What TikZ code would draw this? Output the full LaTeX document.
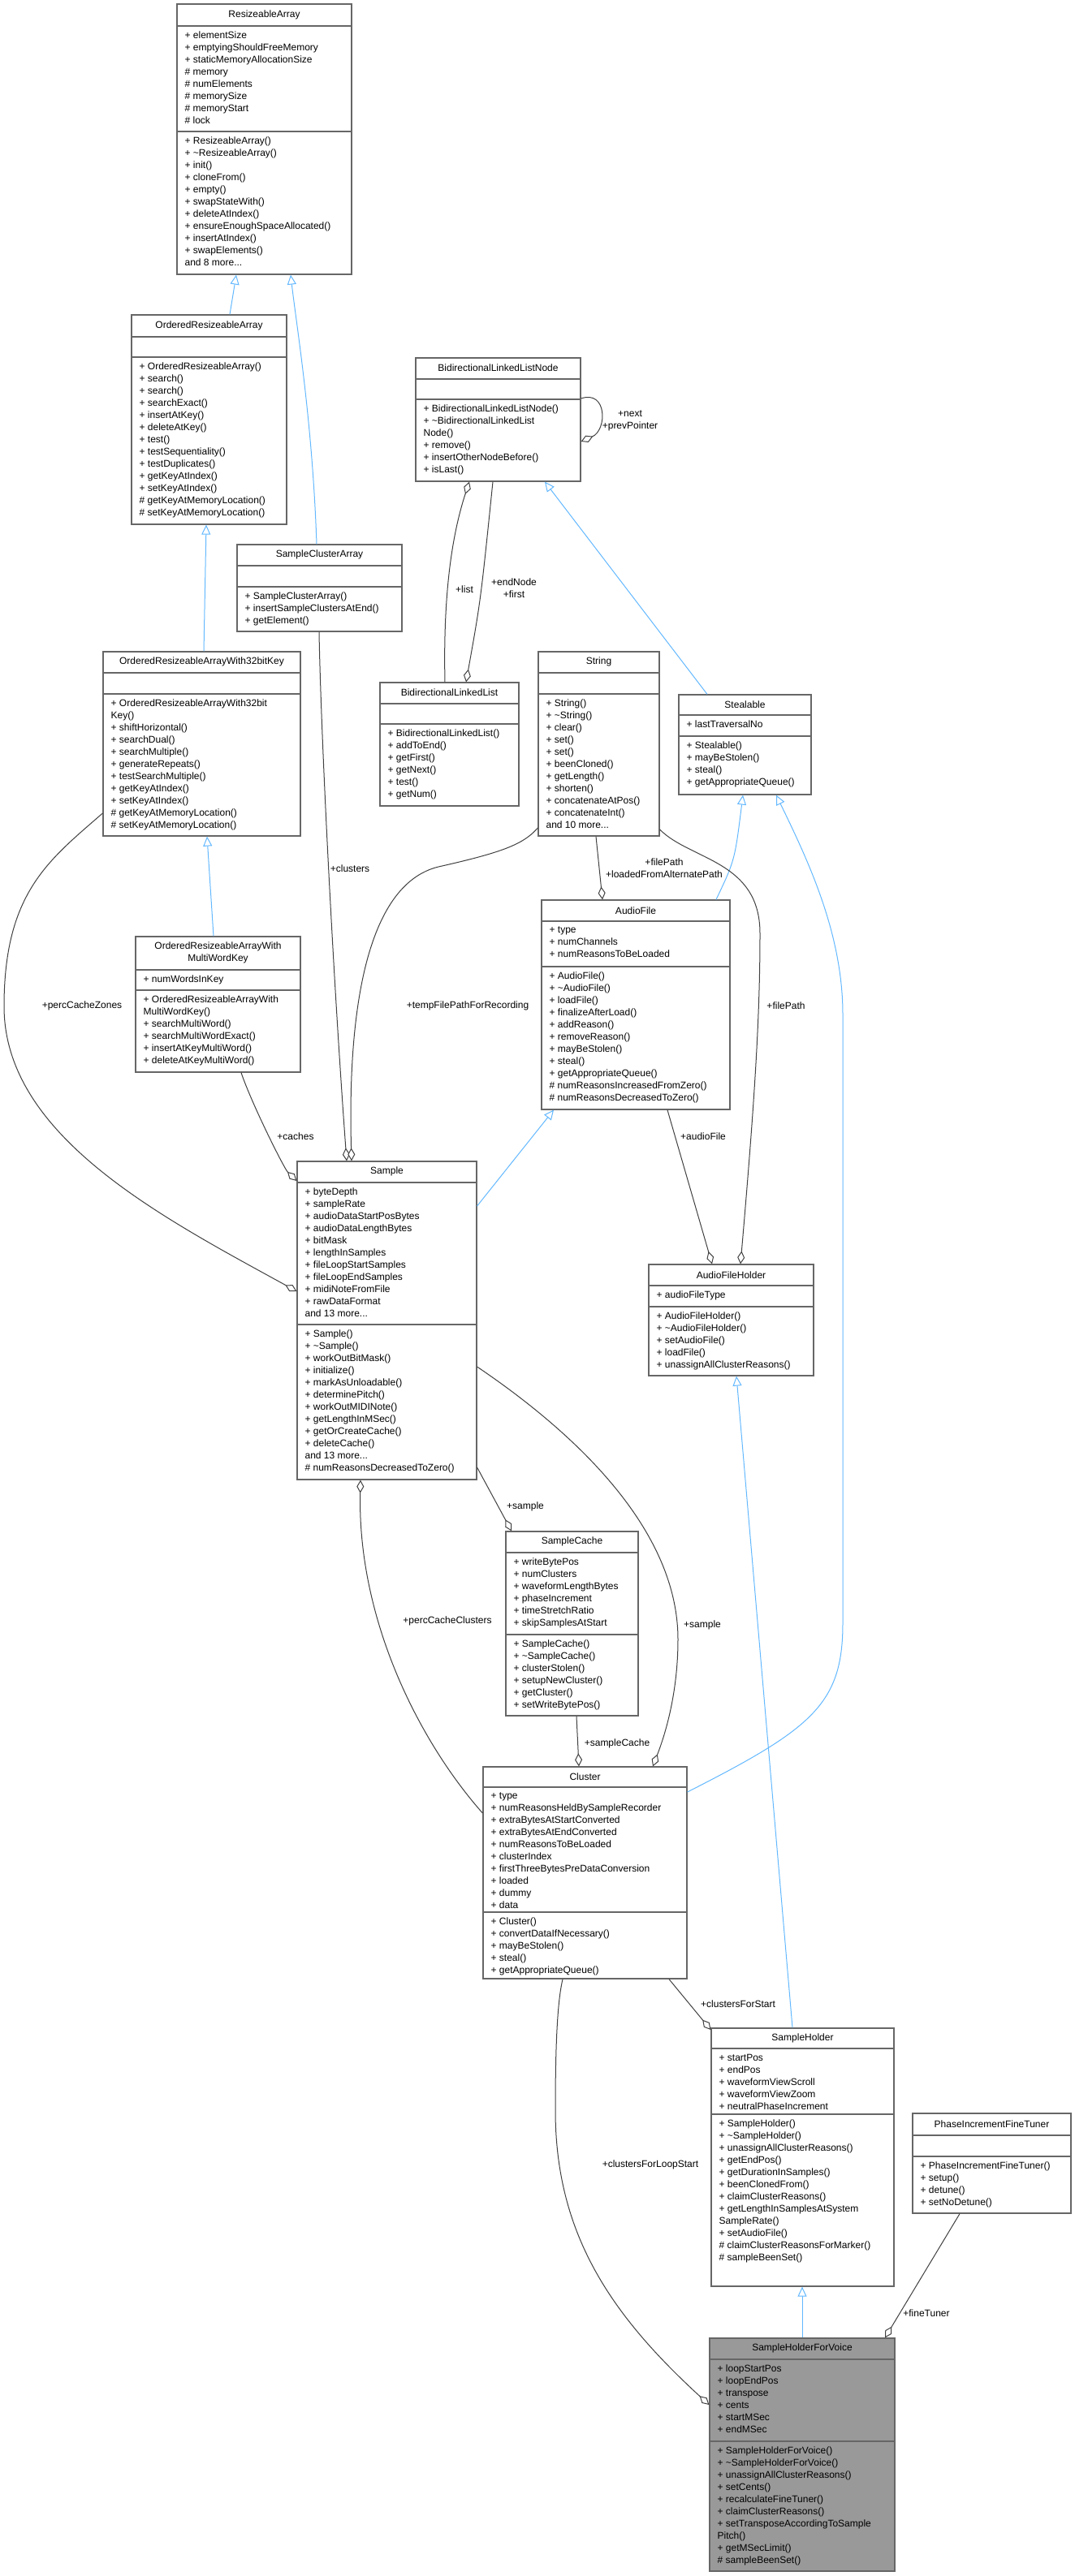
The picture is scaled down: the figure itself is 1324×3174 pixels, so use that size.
\documentclass[tikz,border=0pt]{standalone}
\usepackage{fontspec}
\setmainfont{Liberation Sans}
\usetikzlibrary{arrows.meta,calc,fit}

\definecolor{boxline}{HTML}{666666}
\definecolor{edgeline}{HTML}{404040}
\definecolor{inhline}{HTML}{63B8FF}
\definecolor{mainfill}{HTML}{999999}

\tikzset{
  umlbox/.style={draw=boxline, line width=1.2pt, inner sep=0pt},
  umltext/.style={inner sep=0pt, align=left, anchor=north west, font=\fontsize{12}{15}\selectfont},
  umltitle/.style={inner sep=0pt, align=center, font=\fontsize{12}{15}\selectfont},
  inherit/.style={draw=inhline, line width=1pt, -{Triangle[open, length=12pt, width=11pt, fill=white]}},
  aggr/.style={draw=edgeline, line width=1pt, {Diamond[open, length=16pt, width=9pt, fill=white]}-},
  role/.style={font=\fontsize{12}{15}\selectfont, align=center, inner sep=1pt},
}

% #1 name, #2 top left, #3 bottom right, #4 y of title rule, #5 y of attribute rule,
% #6 title, #7 attributes, #8 methods, #9 fill
\newcommand{\umlclass}[9]{%
  \node[umlbox, fill=#9, fit={#2 #3}] (#1) {};
  \draw[boxline, line width=1.2pt] (#1.west |- 0,#4) -- (#1.east |- 0,#4);
  \draw[boxline, line width=1.2pt] (#1.west |- 0,#5) -- (#1.east |- 0,#5);
  \node[umltitle] (#1-title) at ($(#1.north)!0.5!(#1.north |- 0,#4)$) {#6};
  \node[umltext] (#1-attrs) at ($(#1.west |- 0,#4)+(10,7)$) {#7};
  \node[umltext] (#1-ops) at ($(#1.west |- 0,#5)+(10,7)$) {#8};
}

\begin{document}
\begin{tikzpicture}[x=1pt, y=-1pt]
\useasboundingbox (0,0) rectangle (1324,3174);

% classes
\umlclass{resarr}{(218,5)}{(433,338)}{32}{162}{ResizeableArray}
  {+ elementSize\\+ emptyingShouldFreeMemory\\+ staticMemoryAllocationSize\\\# memory\\\# numElements\\\# memorySize\\\# memoryStart\\\# lock}
  {+ ResizeableArray()\\+ \textasciitilde ResizeableArray()\\+ init()\\+ cloneFrom()\\+ empty()\\+ swapStateWith()\\+ deleteAtIndex()\\+ ensureEnoughSpaceAllocated()\\+ insertAtIndex()\\+ swapElements()\\and 8 more...}{white}
\umlclass{ordarr}{(162,388)}{(353,646)}{415}{440}{OrderedResizeableArray}
  {}
  {+ OrderedResizeableArray()\\+ search()\\+ search()\\+ searchExact()\\+ insertAtKey()\\+ deleteAtKey()\\+ test()\\+ testSequentiality()\\+ testDuplicates()\\+ getKeyAtIndex()\\+ setKeyAtIndex()\\\# getKeyAtMemoryLocation()\\\# setKeyAtMemoryLocation()}{white}
\umlclass{clusterarr}{(292,671)}{(495,778)}{697}{723}{SampleClusterArray}
  {}
  {+ SampleClusterArray()\\+ insertSampleClustersAtEnd()\\+ getElement()}{white}
\umlclass{bllnode}{(512,441)}{(715,593)}{467}{492}{BidirectionalLinkedListNode}
  {}
  {+ BidirectionalLinkedListNode()\\+ \textasciitilde BidirectionalLinkedList\\Node()\\+ remove()\\+ insertOtherNodeBefore()\\+ isLast()}{white}
\umlclass{bllist}{(468,841)}{(639,993)}{867}{892}{BidirectionalLinkedList}
  {}
  {+ BidirectionalLinkedList()\\+ addToEnd()\\+ getFirst()\\+ getNext()\\+ test()\\+ getNum()}{white}
\umlclass{string}{(663,803)}{(812,1030)}{829}{855}{String}
  {}
  {+ String()\\+ \textasciitilde String()\\+ clear()\\+ set()\\+ set()\\+ beenCloned()\\+ getLength()\\+ shorten()\\+ concatenateAtPos()\\+ concatenateInt()\\and 10 more...}{white}
\umlclass{stealable}{(836,856)}{(999,979)}{881}{907}{Stealable}
  {+ lastTraversalNo}
  {+ Stealable()\\+ mayBeStolen()\\+ steal()\\+ getAppropriateQueue()}{white}
\umlclass{arr32}{(127,803)}{(370,1030)}{829}{855}{OrderedResizeableArrayWith32bitKey}
  {}
  {+ OrderedResizeableArrayWith32bit\\Key()\\+ shiftHorizontal()\\+ searchDual()\\+ searchMultiple()\\+ generateRepeats()\\+ testSearchMultiple()\\+ getKeyAtIndex()\\+ setKeyAtIndex()\\\# getKeyAtMemoryLocation()\\\# setKeyAtMemoryLocation()}{white}
\umlclass{arrmulti}{(167,1154)}{(370,1321)}{1195}{1220}{OrderedResizeableArrayWith\\MultiWordKey}
  {+ numWordsInKey}
  {+ OrderedResizeableArrayWith\\MultiWordKey()\\+ searchMultiWord()\\+ searchMultiWordExact()\\+ insertAtKeyMultiWord()\\+ deleteAtKeyMultiWord()}{white}
\umlclass{audiofile}{(667,1109)}{(899,1367)}{1135}{1191}{AudioFile}
  {+ type\\+ numChannels\\+ numReasonsToBeLoaded}
  {+ AudioFile()\\+ \textasciitilde AudioFile()\\+ loadFile()\\+ finalizeAfterLoad()\\+ addReason()\\+ removeReason()\\+ mayBeStolen()\\+ steal()\\+ getAppropriateQueue()\\\# numReasonsIncreasedFromZero()\\\# numReasonsDecreasedToZero()}{white}
\umlclass{sample}{(366,1431)}{(587,1823)}{1457}{1632}{Sample}
  {+ byteDepth\\+ sampleRate\\+ audioDataStartPosBytes\\+ audioDataLengthBytes\\+ bitMask\\+ lengthInSamples\\+ fileLoopStartSamples\\+ fileLoopEndSamples\\+ midiNoteFromFile\\+ rawDataFormat\\and 13 more...}
  {+ Sample()\\+ \textasciitilde Sample()\\+ workOutBitMask()\\+ initialize()\\+ markAsUnloadable()\\+ determinePitch()\\+ workOutMIDINote()\\+ getLengthInMSec()\\+ getOrCreateCache()\\+ deleteCache()\\and 13 more...\\\# numReasonsDecreasedToZero()}{white}
\umlclass{fileholder}{(799,1558)}{(1002,1695)}{1584}{1610}{AudioFileHolder}
  {+ audioFileType}
  {+ AudioFileHolder()\\+ \textasciitilde AudioFileHolder()\\+ setAudioFile()\\+ loadFile()\\+ unassignAllClusterReasons()}{white}
\umlclass{cache}{(623,1887)}{(786,2114)}{1913}{2014}{SampleCache}
  {+ writeBytePos\\+ numClusters\\+ waveformLengthBytes\\+ phaseIncrement\\+ timeStretchRatio\\+ skipSamplesAtStart}
  {+ SampleCache()\\+ \textasciitilde SampleCache()\\+ clusterStolen()\\+ setupNewCluster()\\+ getCluster()\\+ setWriteBytePos()}{white}
\umlclass{cluster}{(595,2177)}{(846,2438)}{2202}{2356}{Cluster}
  {+ type\\+ numReasonsHeldBySampleRecorder\\+ extraBytesAtStartConverted\\+ extraBytesAtEndConverted\\+ numReasonsToBeLoaded\\+ clusterIndex\\+ firstThreeBytesPreDataConversion\\+ loaded\\+ dummy\\+ data}
  {+ Cluster()\\+ convertDataIfNecessary()\\+ mayBeStolen()\\+ steal()\\+ getAppropriateQueue()}{white}
\umlclass{holder}{(876,2499)}{(1101,2817)}{2524}{2605}{SampleHolder}
  {+ startPos\\+ endPos\\+ waveformViewScroll\\+ waveformViewZoom\\+ neutralPhaseIncrement}
  {+ SampleHolder()\\+ \textasciitilde SampleHolder()\\+ unassignAllClusterReasons()\\+ getEndPos()\\+ getDurationInSamples()\\+ beenClonedFrom()\\+ claimClusterReasons()\\+ getLengthInSamplesAtSystem\\SampleRate()\\+ setAudioFile()\\\# claimClusterReasonsForMarker()\\\# sampleBeenSet()}{white}
\umlclass{tuner}{(1124,2604)}{(1319,2727)}{2631}{2657}{PhaseIncrementFineTuner}
  {}
  {+ PhaseIncrementFineTuner()\\+ setup()\\+ detune()\\+ setNoDetune()}{white}
\umlclass{voice}{(874,2881)}{(1102,3168)}{2907}{3008}{SampleHolderForVoice}
  {+ loopStartPos\\+ loopEndPos\\+ transpose\\+ cents\\+ startMSec\\+ endMSec}
  {+ SampleHolderForVoice()\\+ \textasciitilde SampleHolderForVoice()\\+ unassignAllClusterReasons()\\+ setCents()\\+ recalculateFineTuner()\\+ claimClusterReasons()\\+ setTransposeAccordingToSample\\Pitch()\\+ getMSecLimit()\\\# sampleBeenSet()}{mainfill}

% inheritance
\draw[inherit] (ordarr.north -| 283,0) -- (resarr.south -| 291,0);
\draw[inherit] (clusterarr.north -| 390,0) .. controls (385,520) and (365,400) .. (resarr.south -| 358,0);
\draw[inherit] (arr32.north -| 251,0) -- (ordarr.south -| 254,0);
\draw[inherit] (arrmulti.north -| 263,0) -- (arr32.south -| 255,0);
\draw[inherit] (stealable.north -| 871,0) -- (bllnode.south -| 671,0);
\draw[inherit] (audiofile.north -| 882,0) .. controls (905,1060) .. (stealable.south -| 915,0);
\draw[inherit] (cluster.east |- 0,2208) .. controls (1000,2130) and (1038,2100) .. (1038,2000)
  -- (1038,1250) .. controls (1038,1150) and (995,1060) .. (stealable.south -| 956,0);
\draw[inherit] (sample.east |- 0,1486) -- (audiofile.south -| 682,0);
\draw[inherit] (holder.north -| 976,0) -- (fileholder.south -| 907,0);
\draw[inherit] (voice.north -| 988,0) -- (holder.south -| 988,0);

% aggregation
\draw[aggr] (bllnode.east |- 0,544) .. controls (748,530) and (748,480) .. (bllnode.east |- 0,491);
\node[role] (lbl-next) at (776,518) {+next\\+prevPointer};
\draw[aggr] (bllnode.south -| 578,0) .. controls (553,670) and (546,750) .. (bllist.north -| 548,0);
\node[role] (lbl-list) at (572,726) {+list};
\draw[aggr] (bllist.north -| 574,0) .. controls (592,740) .. (bllnode.south -| 607,0);
\node[role] (lbl-endnode) at (633,725) {+endNode\\+first};
\draw[aggr] (audiofile.north -| 742,0) -- (string.south -| 734,0);
\node[role] (lbl-filepath) at (818,1070) {+filePath\\+loadedFromAlternatePath};
\draw[aggr] (fileholder.north -| 912,0) .. controls (930,1350) and (936,1250) .. (936,1150)
  .. controls (936,1060) and (850,1060) .. (string.east |- 0,1022);
\node[role] (lbl-filepath2) at (968,1239) {+filePath};
\draw[aggr] (fileholder.north -| 877,0) -- (audiofile.south -| 822,0);
\node[role] (lbl-audiofile) at (866,1400) {+audioFile};
\draw[aggr] (sample.north -| 427,0) .. controls (410,1200) and (395,900) .. (clusterarr.south -| 393,0);
\node[role] (lbl-clusters) at (431,1070) {+clusters};
\draw[aggr] (sample.north -| 433,0) .. controls (428,1250) and (450,1090) .. (540,1068)
  .. controls (620,1050) and (645,1040) .. (string.west |- 0,1020);
\node[role] (lbl-temppath) at (576,1239) {+tempFilePathForRecording};
\draw[aggr] (sample.west |- 0,1455) .. controls (350,1440) and (310,1360) .. (arrmulti.south -| 297,0);
\node[role] (lbl-caches) at (364,1400) {+caches};
\draw[aggr] (sample.west |- 0,1591) .. controls (200,1500) and (5,1400) .. (5,1240)
  .. controls (5,1100) and (60,1060) .. (arr32.west |- 0,1002);
\node[role] (lbl-zones) at (101,1239) {+percCacheZones};
\draw[aggr] (cache.north -| 630,0) -- (sample.east |- 0,1808);
\node[role] (lbl-sample) at (647,1856) {+sample};
\draw[aggr] (cluster.north -| 804,0) .. controls (822,2130) and (835,2080) .. (835,2020)
  .. controls (835,1880) and (700,1760) .. (sample.east |- 0,1684);
\node[role] (lbl-sample2) at (865,2002) {+sample};
\draw[aggr] (cluster.north -| 713,0) -- (cache.south -| 710,0);
\node[role] (lbl-cache) at (760,2148) {+sampleCache};
\draw[aggr] (sample.south -| 444,0) .. controls (440,2000) and (520,2150) .. (cluster.west |- 0,2234);
\node[role] (lbl-perccl) at (551,1997) {+percCacheClusters};
\draw[aggr] (holder.west |- 0,2501) -- (cluster.south -| 824,0);
\node[role] (lbl-start) at (909,2469) {+clustersForStart};
\draw[aggr] (voice.west |- 0,2963) .. controls (750,2850) and (684,2750) .. (684,2600)
  .. controls (684,2500) and (688,2460) .. (cluster.south -| 693,0);
\node[role] (lbl-loopstart) at (801,2667) {+clustersForLoopStart};
\draw[aggr] (voice.north -| 1090,0) -- (tuner.south -| 1182,0);
\node[role] (lbl-tuner) at (1141,2850) {+fineTuner};
\end{tikzpicture}
\end{document}
